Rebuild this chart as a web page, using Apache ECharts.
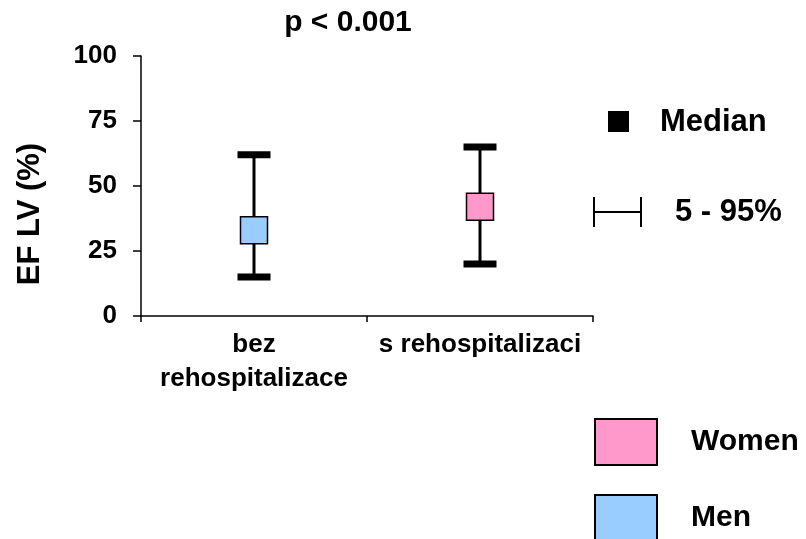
<!DOCTYPE html>
<html>
<head>
<meta charset="utf-8">
<script src="https://cdn.jsdelivr.net/npm/echarts@6/dist/echarts.min.js"></script>
<style>
  html, body { margin: 0; padding: 0; background: #fff; }
  #chart { width: 806px; height: 539px; }
</style>
</head>
<body>
<div id="chart"></div>
<script>
// data
const categories = ['bez\nrehospitalizace', 's rehospitalizaci']
const groupNames = ['Men', 'Women']
const groupColors = ['#99CCFF', '#FF99CC']
const p5 = [15, 20]
const median = [33, 42]
const p95 = [62, 65]
const yTicks = { min: 0, max: 100, interval: 25 }
const titleText = 'p < 0.001'
const yName = 'EF LV (%)'
const keyLabels = ['Median', '5 - 95%']

const FONT = "'Liberation Sans', Arial, sans-serif"

// one custom series per group (Men = first category, Women = second)
const renderRange = (params, api) => {
  const x = api.value(0)
  const top = api.coord([x, api.value(3)])
  const mid = api.coord([x, api.value(2)])
  const bot = api.coord([x, api.value(1)])
  const capW = 33, capH = 7, box = 27
  return {
    type: 'group',
    children: [
      { type: 'line', shape: { x1: top[0], y1: top[1], x2: bot[0], y2: bot[1] }, style: { stroke: '#000', lineWidth: 3 } },
      { type: 'rect', shape: { x: top[0] - capW / 2, y: top[1] - capH / 2, width: capW, height: capH }, style: { fill: '#000' } },
      { type: 'rect', shape: { x: bot[0] - capW / 2, y: bot[1] - capH / 2, width: capW, height: capH }, style: { fill: '#000' } },
      { type: 'rect', shape: { x: mid[0] - box / 2, y: mid[1] - box / 2, width: box, height: box },
        style: { fill: api.visual('color'), stroke: '#000', lineWidth: 1.5 } }
    ]
  }
}

const series = groupNames.map((name, i) => ({
  name,
  type: 'custom',
  renderItem: renderRange,
  itemStyle: { color: groupColors[i], borderColor: '#000', borderWidth: 2 },
  encode: { x: 0, y: [1, 2, 3] },
  data: [[i, p5[i], median[i], p95[i]]]
}))

// legend boxes, one per group so the last one is not wrapped off screen
const legendBase = {
  orient: 'vertical',
  left: 594,
  padding: 0,
  itemWidth: 62,
  itemHeight: 46,
  icon: 'rect',
  selectedMode: false,
  textStyle: { fontFamily: FONT, fontSize: 30, fontWeight: 'bold', color: '#000', padding: [0, 0, 0, 29] }
}

const chart = echarts.init(document.getElementById('chart'))
chart.setOption({
  animation: false,
  backgroundColor: '#fff',
  title: {
    text: titleText,
    left: 348,
    textAlign: 'center',
    top: 8,
    padding: 0,
    textStyle: { fontFamily: FONT, fontSize: 30, fontWeight: 'bold', color: '#000' }
  },
  grid: { left: 141, right: 213, top: 56, bottom: 223 },
  legend: [
    { ...legendBase, data: ['Women'], top: 418 },
    { ...legendBase, data: ['Men'], top: 494 }
  ],
  xAxis: {
    type: 'category',
    data: categories,
    boundaryGap: true,
    axisLine: { lineStyle: { color: '#000', width: 1.5 } },
    axisTick: { show: true, interval: 0, length: 6, lineStyle: { color: '#000', width: 1.5 } },
    axisLabel: {
      interval: 0,
      margin: 12,
      fontFamily: FONT, fontSize: 26, fontWeight: 'bold', color: '#000', lineHeight: 34
    }
  },
  yAxis: {
    type: 'value',
    min: yTicks.min,
    max: yTicks.max,
    interval: yTicks.interval,
    splitLine: { show: false },
    axisLine: { show: true, lineStyle: { color: '#000', width: 1.5 } },
    axisTick: { show: true, length: 8, lineStyle: { color: '#000', width: 1.5 } },
    axisLabel: { margin: 24, fontFamily: FONT, fontSize: 26, fontWeight: 'bold', color: '#000' }
  },
  graphic: [
    {
      type: 'text', x: 30, y: 214, rotation: Math.PI / 2,
      style: { text: yName, fontFamily: FONT, fontSize: 31, fontWeight: 'bold', fill: '#000', align: 'center', verticalAlign: 'middle' }
    },
    // key: median square
    { type: 'rect', shape: { x: 608, y: 111, width: 21, height: 21 }, style: { fill: '#000' } },
    {
      type: 'text', x: 660, y: 122,
      style: { text: keyLabels[0], fontFamily: FONT, fontSize: 31, fontWeight: 'bold', fill: '#000', verticalAlign: 'middle' }
    },
    // key: 5-95% whisker
    { type: 'line', shape: { x1: 594, y1: 212, x2: 641, y2: 212 }, style: { stroke: '#000', lineWidth: 2 } },
    { type: 'line', shape: { x1: 594, y1: 197, x2: 594, y2: 227 }, style: { stroke: '#000', lineWidth: 2 } },
    { type: 'line', shape: { x1: 641, y1: 197, x2: 641, y2: 227 }, style: { stroke: '#000', lineWidth: 2 } },
    {
      type: 'text', x: 675, y: 212,
      style: { text: keyLabels[1], fontFamily: FONT, fontSize: 31, fontWeight: 'bold', fill: '#000', verticalAlign: 'middle' }
    }
  ],
  series
})
</script>
</body>
</html>
